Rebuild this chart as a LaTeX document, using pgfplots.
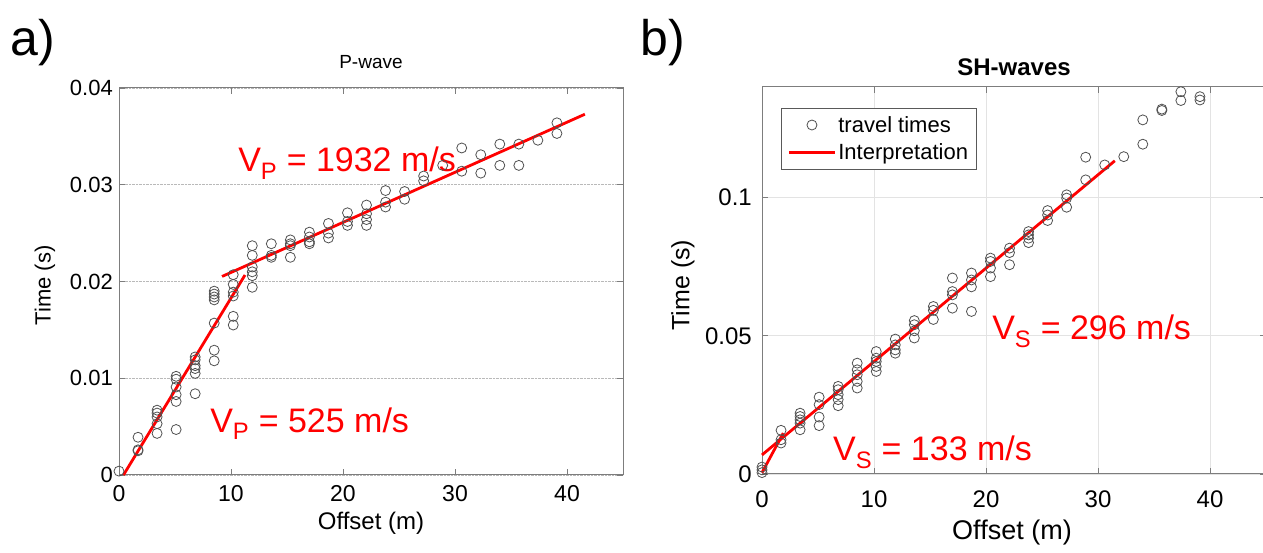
\documentclass[border=0pt]{standalone}
\usepackage{fontspec}
\setmainfont{Liberation Sans}
\usepackage{pgfplots}
\pgfplotsset{compat=1.18}
\usepackage{pgfplotstable}

\definecolor{framegray}{RGB}{125,125,125}
\definecolor{markgray}{RGB}{80,80,80}
\definecolor{interp}{RGB}{255,0,0}

% P-wave first arrivals: offset (m), travel time (s)
\pgfplotstableread{
x t
0 0.0004
1.7 0.0039
1.7 0.0026
1.7 0.0025
3.4 0.0067
3.4 0.0064
3.4 0.0060
3.4 0.0053
3.4 0.0043
5.1 0.0102
5.1 0.0099
5.1 0.0091
5.1 0.0083
5.1 0.0076
5.1 0.0047
6.8 0.0122
6.8 0.0119
6.8 0.0113
6.8 0.0110
6.8 0.0105
6.8 0.0084
8.5 0.0190
8.5 0.0187
8.5 0.0184
8.5 0.0181
8.5 0.0157
8.5 0.0129
8.5 0.0118
10.2 0.0207
10.2 0.0197
10.2 0.0189
10.2 0.0185
10.2 0.0164
10.2 0.0155
11.9 0.0237
11.9 0.0227
11.9 0.0215
11.9 0.0210
11.9 0.0206
11.9 0.0194
13.6 0.0239
13.6 0.0227
13.6 0.0225
15.3 0.0243
15.3 0.0239
15.3 0.0237
15.3 0.0225
17.0 0.0251
17.0 0.0246
17.0 0.0241
17.0 0.0239
18.7 0.0260
18.7 0.0250
18.7 0.0245
20.4 0.0271
20.4 0.0262
20.4 0.0258
22.1 0.0279
22.1 0.0270
22.1 0.0264
22.1 0.0258
23.8 0.0294
23.8 0.0282
23.8 0.0277
25.5 0.0293
25.5 0.0285
27.2 0.0309
27.2 0.0304
28.9 0.0320
30.6 0.0338
30.6 0.0314
32.3 0.0331
32.3 0.0312
34.0 0.0342
34.0 0.0320
35.7 0.0342
35.7 0.0320
37.4 0.0346
39.1 0.0364
39.1 0.0353
}\pwave

% SH-wave first arrivals: offset (m), travel time (s)
\pgfplotstableread{
x t
0 0.0025
0 0.0015
0 0.0005
1.7 0.0158
1.7 0.0124
1.7 0.0112
3.4 0.0220
3.4 0.0208
3.4 0.0196
3.4 0.0184
3.4 0.0160
5.1 0.0278
5.1 0.0251
5.1 0.0206
5.1 0.0175
6.8 0.0317
6.8 0.0305
6.8 0.0287
6.8 0.0269
6.8 0.0247
8.5 0.0401
8.5 0.0377
8.5 0.0359
8.5 0.0335
8.5 0.0311
10.2 0.0443
10.2 0.0419
10.2 0.0407
10.2 0.0389
10.2 0.0371
11.9 0.0488
11.9 0.0467
11.9 0.0449
11.9 0.0437
13.6 0.0555
13.6 0.0540
13.6 0.0518
13.6 0.0492
15.3 0.0606
15.3 0.0592
15.3 0.0559
17.0 0.0709
17.0 0.0660
17.0 0.0648
17.0 0.0600
18.7 0.0727
18.7 0.0702
18.7 0.0677
18.7 0.0588
20.4 0.0781
20.4 0.0769
20.4 0.0745
20.4 0.0714
22.1 0.0817
22.1 0.0801
22.1 0.0757
23.8 0.0877
23.8 0.0865
23.8 0.0853
23.8 0.0837
25.5 0.0953
25.5 0.0937
25.5 0.0917
27.2 0.1010
27.2 0.0998
27.2 0.0965
28.9 0.1146
28.9 0.1064
30.6 0.1118
32.3 0.1148
34.0 0.1281
34.0 0.1193
35.7 0.1320
35.7 0.1315
37.4 0.1383
37.4 0.1351
39.1 0.1365
39.1 0.1353
}\swave

\pgfplotsset{
  panel/.style={
    scale only axis, width=504pt, height=387pt, anchor=south west,
    xmin=0, xmax=45, ymin=0,
    xtick={0,10,20,30,40}, xticklabels={0,10,20,30,40},
    scaled y ticks=false,
    tick align=inside, major tick length=6pt,
    tick style={framegray, line width=0.8pt},
    axis line style={framegray, line width=1pt},
    xticklabel style={anchor=north, inner sep=0pt},
    yticklabel style={anchor=east, inner sep=0pt},
    clip=false,
  },
  picks/.style={only marks, mark=o, mark size=5pt,
    mark options={draw=markgray, line width=0.8pt}},
  fit/.style={interp, line width=2.8pt, no marks},
  markleg/.style={legend image code/.code={\draw[##1] plot coordinates {(23pt,0pt)};}},
  lineleg/.style={legend image code/.code={\draw[##1] (0pt,0pt) -- (46pt,0pt);}},
}

\newcommand{\vlabel}[2]{\textcolor{interp}{V\textsubscript{#1} = #2 m/s}}

\begin{document}
\begin{tikzpicture}[x=1pt,y=1pt]
\node[anchor=base west, inner sep=0pt, font=\fontsize{50}{56}\selectfont] at (10,497) {a)};
\node[anchor=base west, inner sep=0pt, font=\fontsize{50}{56}\selectfont] at (640,497) {b)};

\begin{axis}[panel, at={(119pt,78pt)},
  ymax=0.04,
  ytick={0,0.01,0.02,0.03,0.04}, yticklabels={0,0.01,0.02,0.03,0.04},
  ymajorgrids, major grid style={densely dotted, gray!55, line width=0.6pt},
  xticklabel style={font=\fontsize{23}{27}\selectfont, yshift=-10pt},
  yticklabel style={font=\fontsize{22}{26}\selectfont, xshift=-6pt},
  title={P-wave},
  title style={font=\fontsize{19}{22}\selectfont, at={(axis description cs:0.5,1.036)}, anchor=base, inner sep=0pt},
  xlabel={Offset (m)},
  xlabel style={font=\fontsize{24}{28}\selectfont, at={(axis description cs:0.500,-0.124)}, anchor=center, inner sep=0pt},
  ylabel={Time (s)},
  ylabel style={font=\fontsize{22}{26}\selectfont, at={(axis description cs:-0.147,0.49)}, anchor=center, inner sep=0pt},
]
\addplot[picks] table[x=x, y=t] {\pwave};
\addplot[fit] coordinates {(0.4,0) (11.25,0.02067)};
\addplot[fit] coordinates {(9.2,0.02052) (41.6,0.03729)};
\node[anchor=base west, inner sep=0pt, font=\fontsize{34}{40}\selectfont] at (axis cs:10.63,0.03132) {\vlabel{P}{1932}};
\node[anchor=base west, inner sep=0pt, font=\fontsize{34}{40}\selectfont] at (axis cs:8.13,0.00444) {\vlabel{P}{525}};
\end{axis}

\begin{axis}[panel, at={(762pt,79pt)},
  ymax=0.14,
  ytick={0,0.05,0.1}, yticklabels={0,0.05,0.1},
  xmajorgrids, ymajorgrids, major grid style={solid, gray!22, line width=0.8pt},
  xticklabel style={font=\fontsize{24}{28}\selectfont, yshift=-17pt},
  yticklabel style={font=\fontsize{24}{28}\selectfont, xshift=-10pt},
  title={\bfseries SH-waves},
  title style={font=\fontsize{24}{28}\selectfont, at={(axis description cs:0.5,1.013)}, anchor=base, inner sep=0pt},
  xlabel={Offset (m)},
  xlabel style={font=\fontsize{27}{32}\selectfont, at={(axis description cs:0.496,-0.150)}, anchor=center, inner sep=0pt},
  ylabel={Time (s)},
  ylabel style={font=\fontsize{25}{30}\selectfont, at={(axis description cs:-0.157,0.488)}, anchor=center, inner sep=0pt},
  legend style={at={(axis description cs:0.038,0.946)}, anchor=north west,
    draw=black!65, line width=0.8pt, font=\fontsize{22}{26}\selectfont,
    inner xsep=6pt, inner ysep=6pt, row sep=6pt},
  legend cell align=left,
]
\addplot[picks, markleg] table[x=x, y=t] {\swave};
\addlegendentry{travel times}
\addplot[fit, lineleg] coordinates {(0,0.0069) (31.5,0.1133)};
\addlegendentry{Interpretation}
\addplot[fit, forget plot] coordinates {(0,0.0005) (1.9,0.0148)};
\node[anchor=base west, inner sep=0pt, font=\fontsize{34}{40}\selectfont] at (axis cs:20.54,0.0488) {\vlabel{S}{296}};
\node[anchor=base west, inner sep=0pt, font=\fontsize{34}{40}\selectfont] at (axis cs:6.34,0.00506) {\vlabel{S}{133}};
\end{axis}

\pgfresetboundingbox
\useasboundingbox (0,0) rectangle (1263,553);
\end{tikzpicture}
\end{document}
